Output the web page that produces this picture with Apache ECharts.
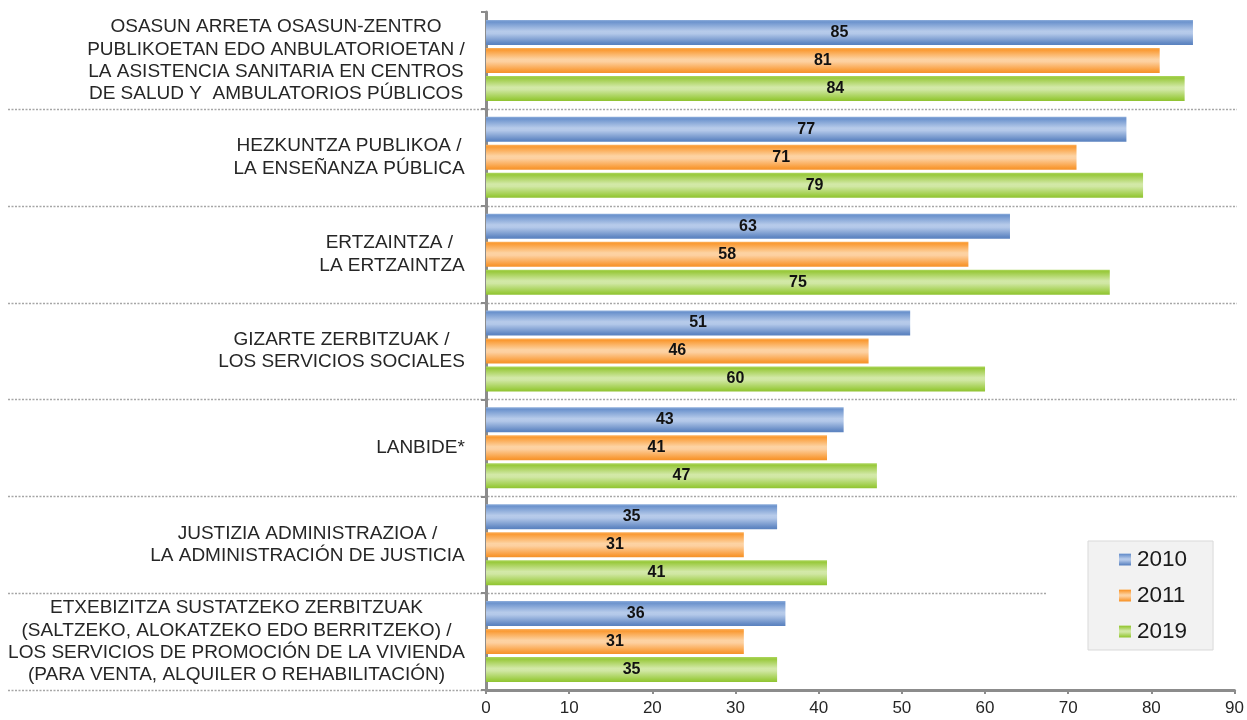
<!DOCTYPE html>
<html>
<head>
<meta charset="utf-8">
<script src="https://cdn.jsdelivr.net/npm/echarts@6/dist/echarts.min.js"></script>
<style>
html,body{margin:0;padding:0;background:#fff;}
#main{width:1247px;height:720px;}
</style>
</head>
<body>
<div id="main"></div>
<script>
const categories = [
  "OSASUN ARRETA OSASUN-ZENTRO\nPUBLIKOETAN EDO ANBULATORIOETAN /\nLA ASISTENCIA SANITARIA EN CENTROS\nDE SALUD Y  AMBULATORIOS PÚBLICOS",
  "HEZKUNTZA PUBLIKOA /\nLA ENSEÑANZA PÚBLICA",
  "ERTZAINTZA / \nLA ERTZAINTZA",
  "GIZARTE ZERBITZUAK /\nLOS SERVICIOS SOCIALES",
  "LANBIDE*",
  "JUSTIZIA ADMINISTRAZIOA /\nLA ADMINISTRACIÓN DE JUSTICIA",
  "ETXEBIZITZA SUSTATZEKO ZERBITZUAK\n(SALTZEKO, ALOKATZEKO EDO BERRITZEKO) /\nLOS SERVICIOS DE PROMOCIÓN DE LA VIVIENDA\n(PARA VENTA, ALQUILER O REHABILITACIÓN)"
];
const seriesNames = ["2010", "2011", "2019"];
const values2010 = [85, 77, 63, 51, 43, 35, 36];
const values2011 = [81, 71, 58, 46, 41, 31, 31];
const values2019 = [84, 79, 75, 60, 47, 41, 35];
const xTicks = [0, 10, 20, 30, 40, 50, 60, 70, 80, 90];

const FONT = '"Liberation Sans", Arial, sans-serif';
const LABEL_SIZE = 19;

// measure each category block width so lines are centred in a right-aligned block
const ctx = document.createElement('canvas').getContext('2d');
ctx.font = LABEL_SIZE + 'px "Liberation Sans"';
const rich = {};
categories.forEach((c, i) => {
  const w = Math.max(...c.split('\n').map(l => ctx.measureText(l).width));
  rich['c' + i] = {width: Math.ceil(w) + 2, align: 'center', fontSize: LABEL_SIZE, lineHeight: 22.3, color: '#262626', fontFamily: FONT};
});

function grad(stops) {
  return new echarts.graphic.LinearGradient(0, 0, 0, 1, stops.map(s => ({offset: s[0], color: s[1]})));
}
const colors = [
  grad([[0, '#8eaedb'], [0.08, '#6c93cd'], [0.45, '#b7cbea'], [0.55, '#b3c8e9'], [0.92, '#6389c4'], [1, '#5a82bf']]),
  grad([[0, '#fbb15e'], [0.08, '#fa9a33'], [0.45, '#fdd3a3'], [0.55, '#fdd0a0'], [0.92, '#f99a35'], [1, '#f4922a']]),
  grad([[0, '#add65f'], [0.08, '#99c93c'], [0.45, '#d3e9a8'], [0.55, '#d0e7a3'], [0.92, '#9acb3f'], [1, '#8fc232']])
];
const dataSets = [values2010, values2011, values2019];

const chart = echarts.init(document.getElementById('main'), null, {renderer: 'canvas'});
const option = {
  animation: false,
  backgroundColor: '#fff',
  grid: {left: 486, right: 12, top: 12, bottom: 30, containLabel: false},
  legend: {
    orient: 'vertical',
    left: 1088, top: 541,
    padding: [7, 26, 7, 31],
    itemGap: 13,
    itemWidth: 12, itemHeight: 12,
    icon: 'rect',
    backgroundColor: '#f2f2f2',
    borderColor: '#d9d9d9', borderWidth: 1,
    textStyle: {fontSize: 22.5, color: '#1a1a1a', fontFamily: FONT, padding: [0, 0, 0, 1]},
    data: seriesNames
  },
  xAxis: {
    type: 'value', min: 0, max: 90, interval: 10,
    axisLine: {show: true, lineStyle: {color: '#8c8c8c', width: 3}},
    axisTick: {show: true, length: 4, lineStyle: {color: '#8c8c8c', width: 2}},
    splitLine: {show: false},
    axisLabel: {fontSize: 17, color: '#262626', fontFamily: FONT, margin: 10,
      formatter: v => xTicks.includes(v) ? String(v) : ''}
  },
  yAxis: {
    type: 'category', inverse: true, data: categories,
    axisLine: {show: true, lineStyle: {color: '#8c8c8c', width: 3}},
    axisTick: {show: true, length: 5, lineStyle: {color: '#8c8c8c', width: 2}},
    splitLine: {show: false},
    axisLabel: {margin: 20, formatter: (v, i) => '{c' + i + '|' + v + '}', rich: rich}
  },
  series: seriesNames.map((n, k) => ({
    name: n, type: 'bar', data: dataSets[k],
    barWidth: 25, barGap: '12%',
    itemStyle: {color: colors[k]},
    label: {show: true, position: 'inside', color: '#111', fontWeight: 'bold', fontSize: 16, fontFamily: FONT}
  }))
};
chart.setOption(option);

// dotted separators between category bands, derived from axis positions
const c0 = chart.convertToPixel({yAxisIndex: 0}, categories[0]);
const c1 = chart.convertToPixel({yAxisIndex: 0}, categories[1]);
const band = c1 - c0;
const x0 = chart.convertToPixel({xAxisIndex: 0}, 0);
const lines = [];
for (let k = 1; k <= categories.length; k++) {
  const y = Math.round(c0 - band / 2 + k * band) + 0.5;
  const xEnd = k === categories.length ? x0 - 2 : (k === 6 ? 1047 : 1237);
  lines.push({type: 'line', z: -1, silent: true,
    shape: {x1: 8, y1: y, x2: xEnd, y2: y},
    style: {stroke: '#a6a6a6', lineWidth: 1.5, lineDash: [2, 1.5]}});
}
chart.setOption({graphic: lines});
</script>
</body>
</html>
